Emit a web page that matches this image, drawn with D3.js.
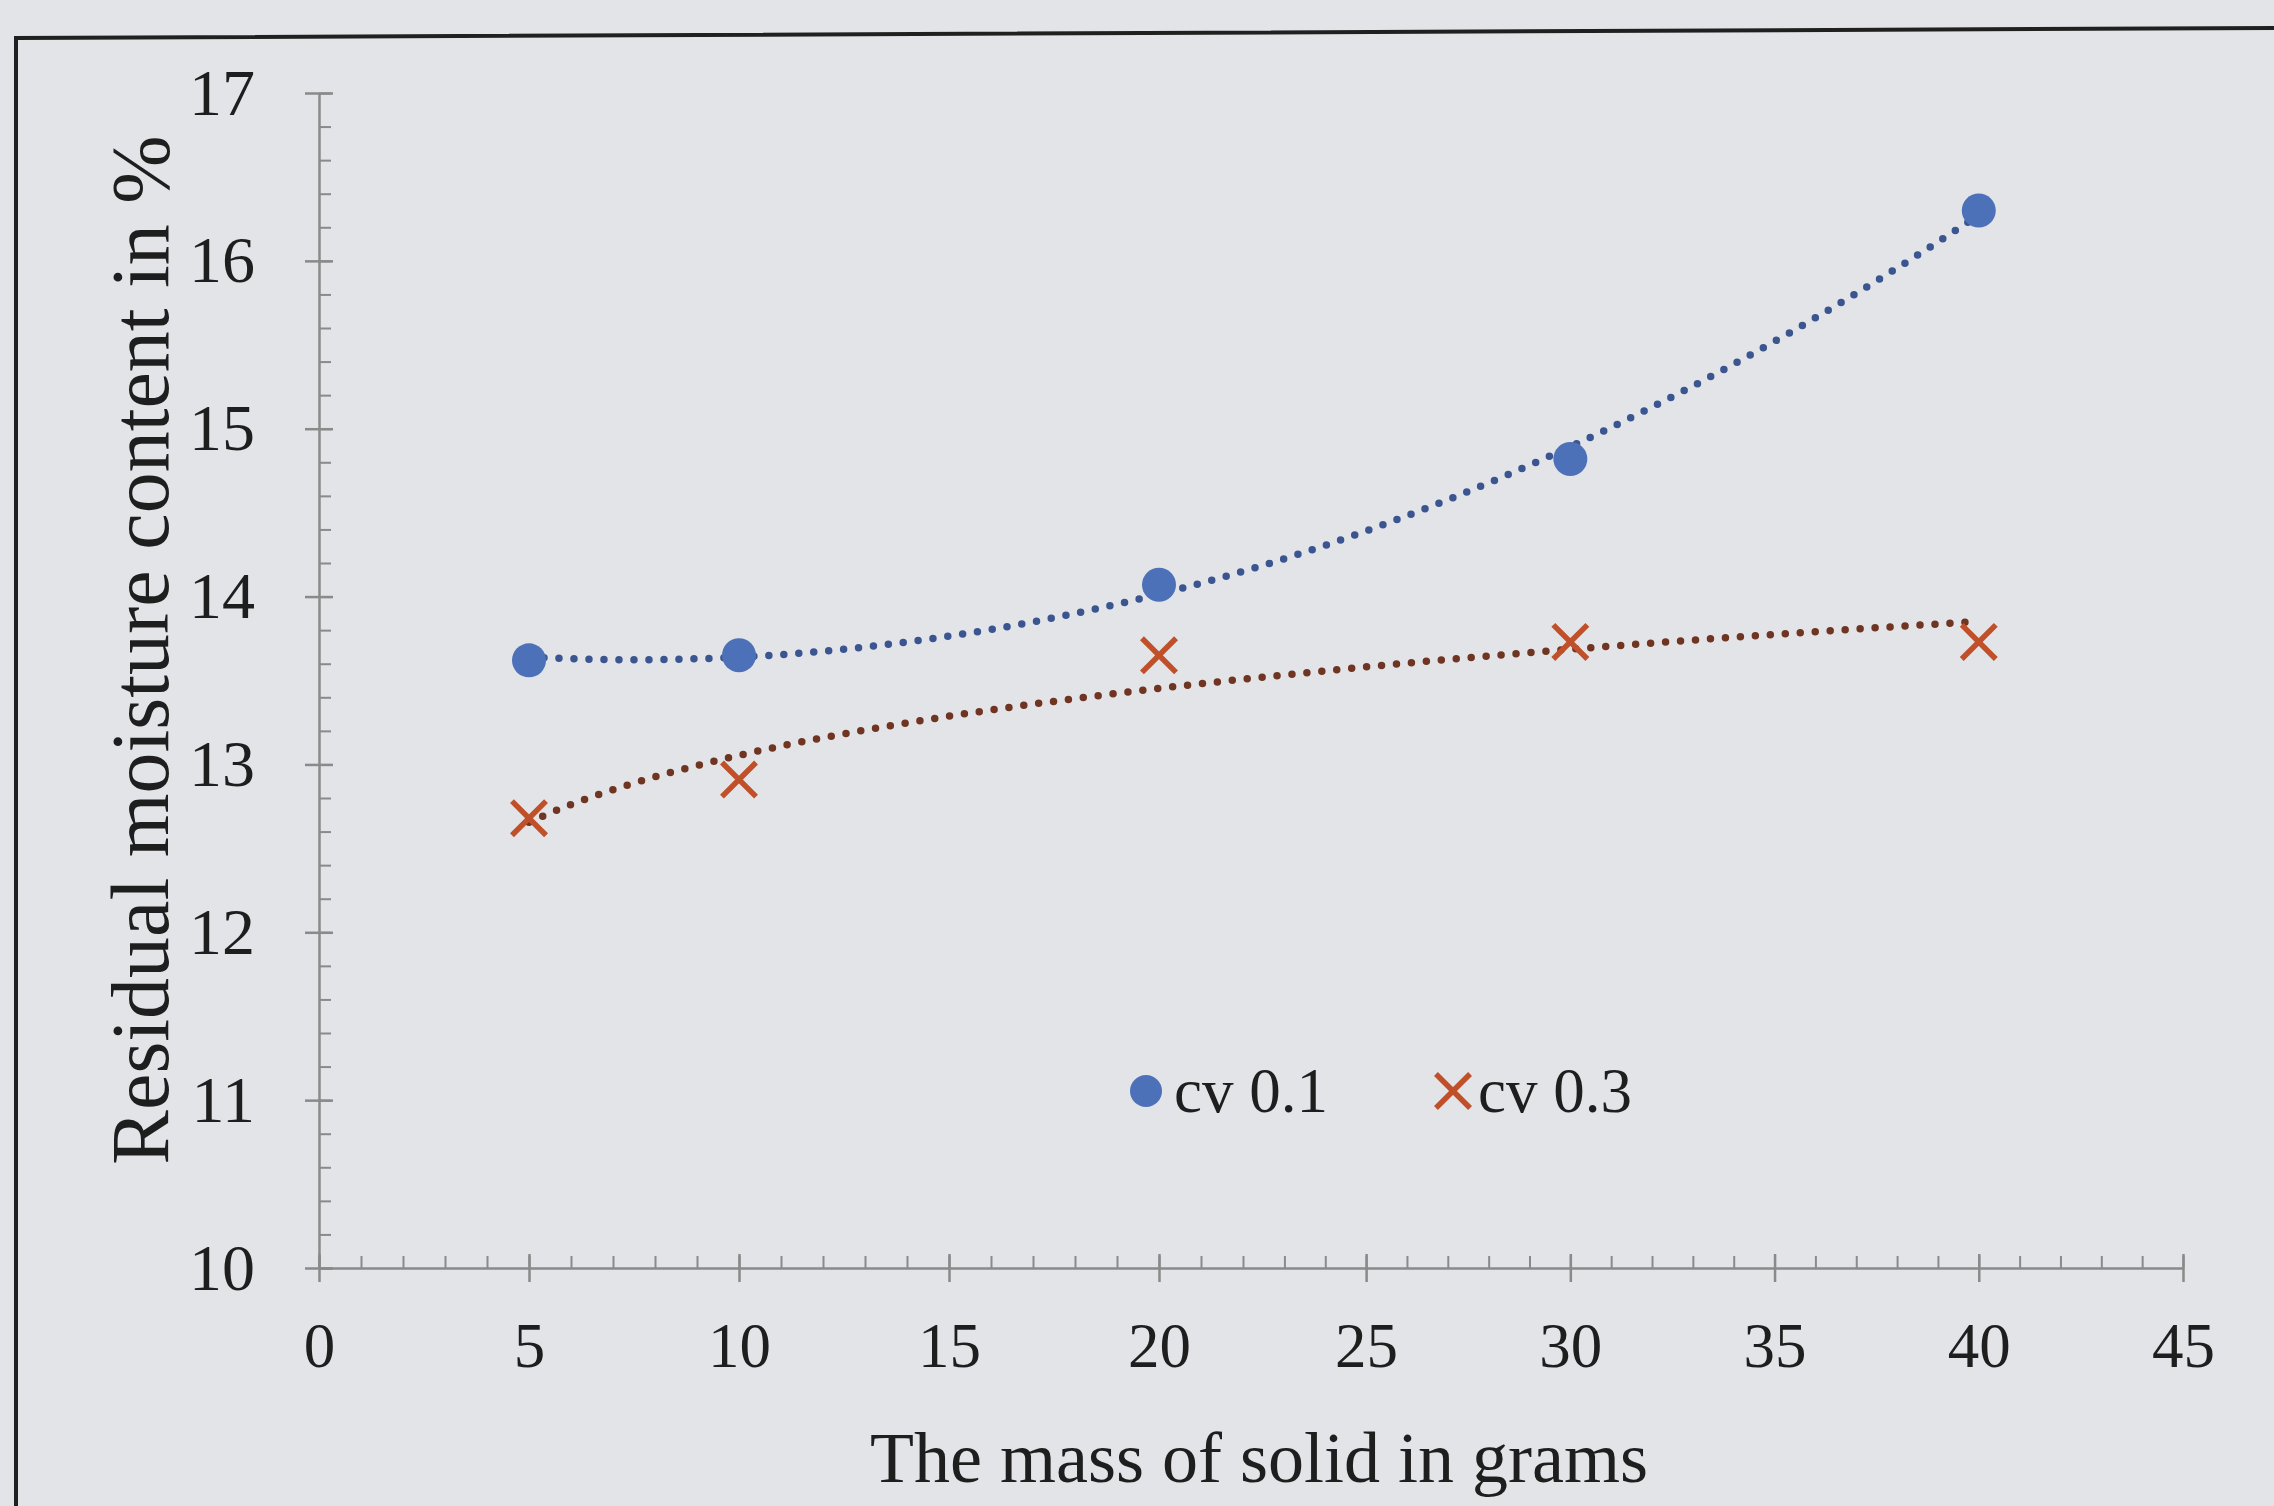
<!DOCTYPE html>
<html>
<head>
<meta charset="utf-8">
<script src="https://cdn.jsdelivr.net/npm/d3@7"></script>
<style>
  body { margin: 0; background: #e3e4e8; }
  svg { display: block; }
  text { font-family: "Liberation Serif", "Times New Roman", serif; fill: #1e1e1e; }
</style>
</head>
<body>
<svg id="chart"></svg>
<script>
// data
const masses = [5, 10, 20, 30, 40];
const cv01 = [13.62, 13.65, 14.07, 14.82, 16.30];
const cv03 = [12.68, 12.91, 13.65, 13.73, 13.73];
const xTicks = [0, 5, 10, 15, 20, 25, 30, 35, 40, 45];
const yTicks = [10, 11, 12, 13, 14, 15, 16, 17];
const seriesNames = ["cv 0.1", "cv 0.3"];

const W = 2274, H = 1506;
const svg = d3.select("#chart").attr("width", W).attr("height", H);

svg.append("rect").attr("width", W).attr("height", H).attr("fill", "#e3e4e8");

// frame of the printed figure
svg.append("path")
    .attr("d", "M16,1506 L16,38 L2274,28")
    .attr("fill", "none")
    .attr("stroke", "#202020")
    .attr("stroke-width", 4);

// the photo bulges a little in the middle, so the x scale gets a middle stop
const x = d3.scaleLinear().domain([0, 22.5, 45]).range([319, 1264, 2183]);
const y = d3.scaleLinear().domain([10, 17]).range([1268, 93]);

const axisColor = "#8a8a8a";

// minor ticks first (inside only)
svg.append("g")
    .attr("transform", `translate(0,${y(10)})`)
    .call(d3.axisBottom(x).tickValues(d3.range(0, 46, 1)).tickSize(-12).tickFormat(""))
    .call(g => g.select(".domain").remove())
    .call(g => g.selectAll("line").attr("stroke", axisColor).attr("stroke-width", 2));

svg.append("g")
    .attr("transform", `translate(${x(0)},0)`)
    .call(d3.axisLeft(y).tickValues(d3.range(10, 17.01, 0.2)).tickSize(-12).tickFormat(""))
    .call(g => g.select(".domain").remove())
    .call(g => g.selectAll("line").attr("stroke", axisColor).attr("stroke-width", 2));

// major axes
const xAxis = svg.append("g")
    .attr("transform", `translate(0,${y(10)})`)
    .call(d3.axisBottom(x).tickValues(xTicks).tickSize(14).tickSizeOuter(0)
        .tickPadding(40).tickFormat(d3.format("d")));
xAxis.selectAll(".tick line").attr("y1", -14);
xAxis.select(".domain").attr("stroke", axisColor).attr("stroke-width", 2.5);
xAxis.selectAll(".tick line").attr("stroke", axisColor).attr("stroke-width", 2.5);
xAxis.selectAll("text")
    .attr("font-size", 63)
    .attr("font-family", "Liberation Serif")
    .attr("fill", "#1e1e1e");

const yAxis = svg.append("g")
    .attr("transform", `translate(${x(0)},0)`)
    .call(d3.axisLeft(y).tickValues(yTicks).tickSize(14).tickSizeOuter(0)
        .tickPadding(50).tickFormat(d3.format("d")));
yAxis.selectAll(".tick line").attr("x2", 14).attr("x1", -14);
yAxis.select(".domain").attr("stroke", axisColor).attr("stroke-width", 2.5);
yAxis.selectAll(".tick line").attr("stroke", axisColor).attr("stroke-width", 2.5);
yAxis.selectAll("text")
    .attr("font-size", 66)
    .attr("font-family", "Liberation Serif")
    .attr("fill", "#1e1e1e");

// axis titles
svg.append("text")
    .attr("x", 1259)
    .attr("y", 1482)
    .attr("text-anchor", "middle")
    .attr("font-size", 72)
    .text("The mass of solid in grams");

svg.append("text")
    .attr("transform", `translate(168,650) rotate(-90)`)
    .attr("text-anchor", "middle")
    .attr("font-size", 82)
    .text("Residual moisture content in %");

// trendlines (least squares, like the spreadsheet)
function polyFit2(xs, ys) {
    // normal equations for y = a + b x + c x^2
    let S = [[0, 0, 0], [0, 0, 0], [0, 0, 0]], T = [0, 0, 0];
    xs.forEach((xv, i) => {
        const p = [1, xv, xv * xv];
        for (let r = 0; r < 3; r++) {
            T[r] += p[r] * ys[i];
            for (let c = 0; c < 3; c++) S[r][c] += p[r] * p[c];
        }
    });
    for (let k = 0; k < 3; k++) {
        for (let r = k + 1; r < 3; r++) {
            const f = S[r][k] / S[k][k];
            for (let c = k; c < 3; c++) S[r][c] -= f * S[k][c];
            T[r] -= f * T[k];
        }
    }
    const co = [0, 0, 0];
    for (let r = 2; r >= 0; r--) {
        let s = T[r];
        for (let c = r + 1; c < 3; c++) s -= S[r][c] * co[c];
        co[r] = s / S[r][r];
    }
    return v => co[0] + co[1] * v + co[2] * v * v;
}

function logFit(xs, ys) {
    const lx = xs.map(Math.log);
    const mx = d3.mean(lx), my = d3.mean(ys);
    const b = d3.sum(lx, (l, i) => (l - mx) * (ys[i] - my)) / d3.sum(lx, l => (l - mx) ** 2);
    const a = my - b * mx;
    return v => a + b * Math.log(v);
}

const blueFit = polyFit2(masses, cv01);
const orangeFit = logFit(masses, cv03);
const xs = d3.range(5, 40.01, 0.25);

const line = d3.line().x(d => x(d[0])).y(d => y(d[1]));

svg.append("path")
    .datum(xs.map(v => [v, blueFit(v)]))
    .attr("d", line)
    .attr("fill", "none")
    .attr("stroke", "#3b5590")
    .attr("stroke-width", 7.5)
    .attr("stroke-linecap", "round")
    .attr("stroke-dasharray", "0 15");

svg.append("path")
    .datum(xs.map(v => [v, orangeFit(v)]))
    .attr("d", line)
    .attr("fill", "none")
    .attr("stroke", "#6f3522")
    .attr("stroke-width", 7.5)
    .attr("stroke-linecap", "round")
    .attr("stroke-dasharray", "0 15");

// markers
const blue = "#4d71b9", orange = "#c0502a";

svg.append("g").selectAll("circle")
    .data(masses.map((m, i) => [m, cv01[i]]))
    .join("circle")
    .attr("cx", d => x(d[0]))
    .attr("cy", d => y(d[1]))
    .attr("r", 17)
    .attr("fill", blue);

const cross = d3.symbol().type(d3.symbolX).size(760);
svg.append("g").selectAll("path")
    .data(masses.map((m, i) => [m, cv03[i]]))
    .join("path")
    .attr("transform", d => `translate(${x(d[0])},${y(d[1])})`)
    .attr("d", cross)
    .attr("fill", "none")
    .attr("stroke", orange)
    .attr("stroke-width", 5.5);

// legend
const legend = svg.append("g").attr("transform", "translate(1146,1091)");
legend.append("circle").attr("r", 16).attr("fill", blue);
legend.append("text").attr("x", 28).attr("y", 21).attr("font-size", 63).text(seriesNames[0]);
legend.append("path").attr("transform", "translate(307,0)").attr("d", cross)
    .attr("fill", "none").attr("stroke", orange).attr("stroke-width", 5.5);
legend.append("text").attr("x", 332).attr("y", 21).attr("font-size", 63).text(seriesNames[1]);
</script>
</body>
</html>
